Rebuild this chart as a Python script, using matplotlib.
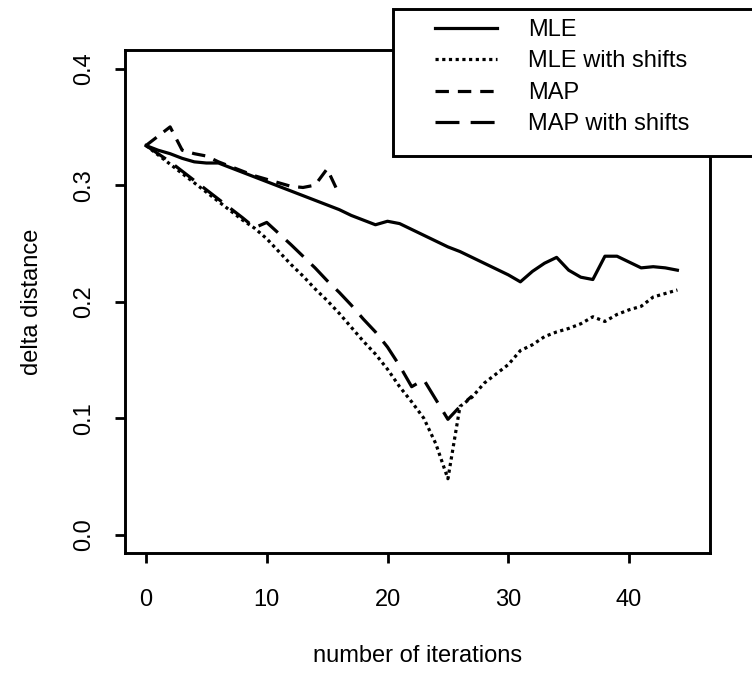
import matplotlib
matplotlib.use("Agg")
import matplotlib.pyplot as plt
from matplotlib.patches import Rectangle

plt.rcParams['font.family'] = ['Liberation Sans', 'DejaVu Sans']

# --- data ---

iterations = list(range(45))

mle = [0.334, 0.330, 0.327, 0.323, 0.320, 0.319, 0.319, 0.315, 0.311, 0.307,
       0.303, 0.299, 0.295, 0.291, 0.287, 0.283, 0.279, 0.274, 0.270, 0.266,
       0.269, 0.267, 0.262, 0.257, 0.252, 0.247, 0.243, 0.238, 0.233, 0.228,
       0.223, 0.217, 0.226, 0.233, 0.238, 0.227, 0.221, 0.219, 0.239, 0.239,
       0.234, 0.229, 0.230, 0.229, 0.227]

mle_shifts = [0.334, 0.326, 0.318, 0.310, 0.302, 0.294, 0.286, 0.278, 0.270, 0.263,
              0.254, 0.243, 0.232, 0.222, 0.211, 0.201, 0.190, 0.178, 0.166, 0.155,
              0.142, 0.127, 0.114, 0.100, 0.078, 0.048, 0.110, 0.118, 0.130, 0.138,
              0.146, 0.158, 0.163, 0.170, 0.174, 0.177, 0.181, 0.187, 0.183, 0.189,
              0.193, 0.196, 0.204, 0.207, 0.210]

map_iter = list(range(17))
map_est = [0.334, 0.342, 0.350, 0.330, 0.327, 0.325, 0.320, 0.316, 0.312, 0.308,
           0.305, 0.302, 0.299, 0.298, 0.300, 0.314, 0.292]

map_shifts_iter = list(range(28))
map_shifts = [0.334, 0.327, 0.320, 0.312, 0.304, 0.296, 0.288, 0.280, 0.272, 0.2635,
              0.268, 0.2585, 0.249, 0.239, 0.229, 0.218, 0.208, 0.197, 0.185, 0.174,
              0.161, 0.145, 0.127, 0.133, 0.116, 0.099, 0.110, 0.119]

labels = ['MLE', 'MLE with shifts', 'MAP', 'MAP with shifts']

# --- figure ---

W, H = 752, 674
fig = plt.figure(figsize=(W / 100, H / 100), dpi=100)
ax = fig.add_axes([124.7 / W, 1 - 553.3 / H, (710 - 124.7) / W, (553.3 - 50) / H])

lw = 2.3
l1, = ax.plot(iterations, mle, color='black', lw=lw, linestyle='-')
l2, = ax.plot(iterations, mle_shifts, color='black', lw=lw, linestyle=(0, (1.0, 1.1)))
l3, = ax.plot(map_iter, map_est, color='black', lw=lw, linestyle=(0, (4.2, 2.8)))
l4, = ax.plot(map_shifts_iter, map_shifts, color='black', lw=lw, linestyle=(0, (7.5, 3.5)))

ax.set_xlim(-1.76, 46.7)
ax.set_ylim(-0.016, 0.416)
ax.set_xticks([0, 10, 20, 30, 40])
ax.set_yticks([0.0, 0.1, 0.2, 0.3, 0.4])
ax.set_yticklabels(['0.0', '0.1', '0.2', '0.3', '0.4'])

for s in ax.spines.values():
    s.set_linewidth(2.1)
ax.tick_params(direction='out', length=7.5, width=2.0, labelsize=17)
ax.tick_params(axis='x', pad=18)
ax.tick_params(axis='y', pad=14, labelrotation=90)
for t in ax.get_yticklabels():
    t.set_verticalalignment('center')

ax.set_xlabel('number of iterations', fontsize=17)
ax.set_ylabel('delta distance', fontsize=17)
ax.xaxis.set_label_coords(0.5, -(655.5 - 553.3) / (553.3 - 50))
ax.xaxis.label.set_verticalalignment('center')
ax.yaxis.set_label_coords(-(124.7 - 32) / (710 - 124.7), 0.5)
ax.yaxis.label.set_verticalalignment('center')

# legend box runs off the right edge of the figure, as in the original
frame = Rectangle((392.7 / W, 1 - 156.4 / H), (820 - 392.7) / W, (156.4 - 9.4) / H,
                  transform=fig.transFigure, facecolor='white', edgecolor='black',
                  linewidth=2.1, zorder=3, clip_on=False)
fig.add_artist(frame)

leg = fig.legend([l1, l2, l3, l4], labels, loc='upper left',
                 bbox_to_anchor=(435 / W, 1 - 19 / H), frameon=False,
                 fontsize=17, borderpad=0, borderaxespad=0,
                 handlelength=62 / 23.6, handletextpad=30.6 / 23.6, labelspacing=0.4)
leg.set_zorder(6)

fig.savefig('out.png', dpi=100)
